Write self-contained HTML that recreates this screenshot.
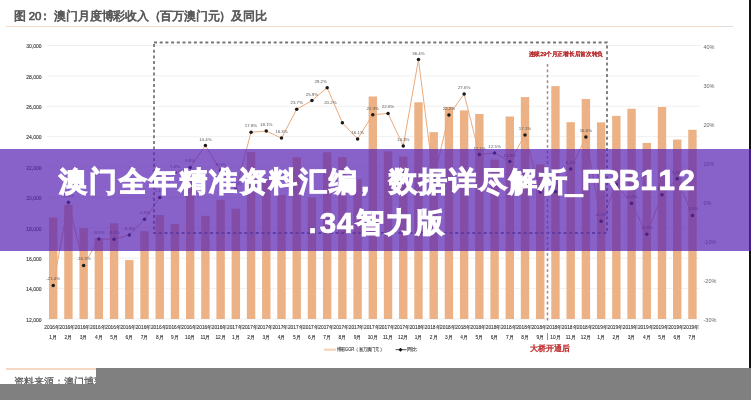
<!DOCTYPE html>
<html><head><meta charset="utf-8">
<style>
html,body{margin:0;padding:0;}
body{width:751px;height:400px;overflow:hidden;position:relative;background:#fff;font-family:"Liberation Sans",sans-serif;}
.title{position:absolute;left:14px;top:8px;font-size:11.5px;letter-spacing:-0.22px;color:#555;-webkit-text-stroke:0.65px #555;filter:blur(0.3px);white-space:nowrap;line-height:16px;}
.uline{position:absolute;left:6px;top:25.8px;width:727px;height:1.6px;background:linear-gradient(to right,#f6dac6 0%,#f6dac6 97%,#dedede 98.5%);}
svg{position:absolute;left:0;top:0;filter:blur(0.45px);}
.ax{font-size:5px;fill:#444;stroke:#444;stroke-width:0.15px;}
.ax2{font-size:5.5px;fill:#666;}
.lb{font-size:4.4px;fill:#555;}
.xl{font-size:4.8px;fill:#3a3a3a;stroke:#3a3a3a;stroke-width:0.12px;}
.rd{font-size:5.6px;fill:#b83434;stroke:#b83434;stroke-width:0.45px;}
.rd2{font-size:8.2px;fill:#c03535;stroke:#c03535;stroke-width:0.45px;}
.lg{font-size:4.8px;fill:#444;stroke:#444;stroke-width:0.12px;}
.rline{position:absolute;left:749px;top:0;width:1.6px;height:400px;background:#111;}
.src{position:absolute;left:6px;top:368.4px;width:727px;height:1.3px;background:#f4d8c4;}
.srct{position:absolute;left:14px;top:375.5px;font-size:10px;color:#555;-webkit-text-stroke:0.25px #555;filter:blur(0.3px);white-space:nowrap;line-height:12px;}
.g1{position:absolute;left:96px;top:368px;width:655px;height:32px;background:#808080;}
.g2{position:absolute;left:0;top:384px;width:751px;height:16px;background:#808080;}
.banner{position:absolute;left:0;top:149px;width:751px;height:101.8px;background:rgba(90,36,180,0.72);}
.btxt{position:absolute;left:0;top:0;width:751px;height:400px;color:#fff;font-weight:bold;-webkit-text-stroke:1.2px #fff;filter:blur(0.35px);}
.bt{position:absolute;white-space:nowrap;font-size:28px;letter-spacing:2px;line-height:30px;}
.lt{position:absolute;width:30px;text-align:center;font-size:29.5px;line-height:30px;-webkit-text-stroke:0.7px #fff;}
</style></head><body>
<div class="title">图 20<span style="position:relative;left:-2.5px">：</span><span style="position:relative;left:1.5px">澳门月度博彩收入（百万澳门元）及同比</span></div>
<div class="uline"></div>
<svg width="751" height="400" viewBox="0 0 751 400">
<line x1="47" y1="319.00" x2="700" y2="319.00" stroke="#ececec" stroke-width="0.8"/>
<text x="41.5" y="321.80" text-anchor="end" class="ax">12,000</text>
<line x1="47" y1="288.61" x2="700" y2="288.61" stroke="#ececec" stroke-width="0.8"/>
<text x="41.5" y="291.41" text-anchor="end" class="ax">14,000</text>
<line x1="47" y1="258.22" x2="700" y2="258.22" stroke="#ececec" stroke-width="0.8"/>
<text x="41.5" y="261.02" text-anchor="end" class="ax">16,000</text>
<line x1="47" y1="227.83" x2="700" y2="227.83" stroke="#ececec" stroke-width="0.8"/>
<text x="41.5" y="230.63" text-anchor="end" class="ax">18,000</text>
<line x1="47" y1="197.44" x2="700" y2="197.44" stroke="#ececec" stroke-width="0.8"/>
<text x="41.5" y="200.24" text-anchor="end" class="ax">20,000</text>
<line x1="47" y1="167.06" x2="700" y2="167.06" stroke="#ececec" stroke-width="0.8"/>
<text x="41.5" y="169.86" text-anchor="end" class="ax">22,000</text>
<line x1="47" y1="136.67" x2="700" y2="136.67" stroke="#ececec" stroke-width="0.8"/>
<text x="41.5" y="139.47" text-anchor="end" class="ax">24,000</text>
<line x1="47" y1="106.28" x2="700" y2="106.28" stroke="#ececec" stroke-width="0.8"/>
<text x="41.5" y="109.08" text-anchor="end" class="ax">26,000</text>
<line x1="47" y1="75.89" x2="700" y2="75.89" stroke="#ececec" stroke-width="0.8"/>
<text x="41.5" y="78.69" text-anchor="end" class="ax">28,000</text>
<line x1="47" y1="45.50" x2="700" y2="45.50" stroke="#ececec" stroke-width="0.8"/>
<text x="41.5" y="48.30" text-anchor="end" class="ax">30,000</text>
<text x="703.5" y="322.00" class="ax2">-30%</text>
<text x="703.5" y="282.93" class="ax2">-20%</text>
<text x="703.5" y="243.86" class="ax2">-10%</text>
<text x="703.5" y="204.79" class="ax2">0%</text>
<text x="703.5" y="165.71" class="ax2">10%</text>
<text x="703.5" y="126.64" class="ax2">20%</text>
<text x="703.5" y="87.57" class="ax2">30%</text>
<text x="703.5" y="48.50" class="ax2">40%</text>
<rect x="49.00" y="217.52" width="8.4" height="101.48" fill="#ecb286"/>
<rect x="64.22" y="204.74" width="8.4" height="114.26" fill="#ecb286"/>
<rect x="79.44" y="228.12" width="8.4" height="90.88" fill="#ecb286"/>
<rect x="94.66" y="238.01" width="8.4" height="80.99" fill="#ecb286"/>
<rect x="109.88" y="223.35" width="8.4" height="95.65" fill="#ecb286"/>
<rect x="125.10" y="260.09" width="8.4" height="58.91" fill="#ecb286"/>
<rect x="140.32" y="231.22" width="8.4" height="87.78" fill="#ecb286"/>
<rect x="155.54" y="215.02" width="8.4" height="103.98" fill="#ecb286"/>
<rect x="170.76" y="223.88" width="8.4" height="95.12" fill="#ecb286"/>
<rect x="185.98" y="170.14" width="8.4" height="148.86" fill="#ecb286"/>
<rect x="201.20" y="215.86" width="8.4" height="103.14" fill="#ecb286"/>
<rect x="216.42" y="199.72" width="8.4" height="119.28" fill="#ecb286"/>
<rect x="231.64" y="208.78" width="8.4" height="110.22" fill="#ecb286"/>
<rect x="246.86" y="151.92" width="8.4" height="167.08" fill="#ecb286"/>
<rect x="262.08" y="178.76" width="8.4" height="140.24" fill="#ecb286"/>
<rect x="277.30" y="194.89" width="8.4" height="124.11" fill="#ecb286"/>
<rect x="292.52" y="157.33" width="8.4" height="161.67" fill="#ecb286"/>
<rect x="307.74" y="197.61" width="8.4" height="121.39" fill="#ecb286"/>
<rect x="322.96" y="152.32" width="8.4" height="166.68" fill="#ecb286"/>
<rect x="338.18" y="157.06" width="8.4" height="161.94" fill="#ecb286"/>
<rect x="353.40" y="179.03" width="8.4" height="139.97" fill="#ecb286"/>
<rect x="368.62" y="96.49" width="8.4" height="222.51" fill="#ecb286"/>
<rect x="383.84" y="151.44" width="8.4" height="167.56" fill="#ecb286"/>
<rect x="399.06" y="156.53" width="8.4" height="162.47" fill="#ecb286"/>
<rect x="414.28" y="102.33" width="8.4" height="216.67" fill="#ecb286"/>
<rect x="429.50" y="132.11" width="8.4" height="186.89" fill="#ecb286"/>
<rect x="444.72" y="107.08" width="8.4" height="211.92" fill="#ecb286"/>
<rect x="459.94" y="110.40" width="8.4" height="208.60" fill="#ecb286"/>
<rect x="475.16" y="114.01" width="8.4" height="204.99" fill="#ecb286"/>
<rect x="490.38" y="159.61" width="8.4" height="159.39" fill="#ecb286"/>
<rect x="505.60" y="116.50" width="8.4" height="202.50" fill="#ecb286"/>
<rect x="520.82" y="97.09" width="8.4" height="221.91" fill="#ecb286"/>
<rect x="536.04" y="164.44" width="8.4" height="154.56" fill="#ecb286"/>
<rect x="551.26" y="86.11" width="8.4" height="232.89" fill="#ecb286"/>
<rect x="566.48" y="122.17" width="8.4" height="196.83" fill="#ecb286"/>
<rect x="581.70" y="98.97" width="8.4" height="220.03" fill="#ecb286"/>
<rect x="596.92" y="122.35" width="8.4" height="196.65" fill="#ecb286"/>
<rect x="612.14" y="115.85" width="8.4" height="203.15" fill="#ecb286"/>
<rect x="627.36" y="108.71" width="8.4" height="210.29" fill="#ecb286"/>
<rect x="642.58" y="142.93" width="8.4" height="176.07" fill="#ecb286"/>
<rect x="657.80" y="107.01" width="8.4" height="211.99" fill="#ecb286"/>
<rect x="673.02" y="139.52" width="8.4" height="179.48" fill="#ecb286"/>
<rect x="688.24" y="129.78" width="8.4" height="189.22" fill="#ecb286"/>
<polyline points="53.20,285.40 68.42,202.18 83.64,265.47 98.86,238.90 114.08,239.29 129.30,235.00 144.52,219.37 159.74,197.49 174.96,172.87 190.18,167.40 205.40,145.52 220.62,170.53 235.84,189.67 251.06,132.24 266.28,131.07 281.50,138.10 296.72,109.19 311.94,100.59 327.16,87.70 342.38,122.86 357.60,138.88 372.82,114.66 388.04,113.48 403.26,145.91 418.48,59.57 433.70,179.51 448.92,115.05 464.14,93.95 479.36,154.51 494.58,152.95 509.80,161.54 525.02,134.97 540.24,192.02 555.46,191.63 570.68,168.97 585.90,136.93 601.12,221.32 616.34,184.59 631.56,203.35 646.78,234.22 662.00,194.75 677.22,178.73 692.44,215.46" fill="none" stroke="#eba97c" stroke-width="1.0"/>
<circle cx="53.20" cy="285.40" r="1.75" fill="#1a1a1a"/>
<text x="53.20" y="280.40" text-anchor="middle" class="lb">-21.4%</text>
<circle cx="68.42" cy="202.18" r="1.75" fill="#1a1a1a"/>
<text x="68.42" y="197.18" text-anchor="middle" class="lb">-0.1%</text>
<circle cx="83.64" cy="265.47" r="1.75" fill="#1a1a1a"/>
<text x="83.64" y="260.47" text-anchor="middle" class="lb">-16.3%</text>
<circle cx="98.86" cy="238.90" r="1.75" fill="#1a1a1a"/>
<text x="98.86" y="233.90" text-anchor="middle" class="lb">-9.5%</text>
<circle cx="114.08" cy="239.29" r="1.75" fill="#1a1a1a"/>
<text x="114.08" y="234.29" text-anchor="middle" class="lb">-9.6%</text>
<circle cx="129.30" cy="235.00" r="1.75" fill="#1a1a1a"/>
<text x="129.30" y="230.00" text-anchor="middle" class="lb">-8.5%</text>
<circle cx="144.52" cy="219.37" r="1.75" fill="#1a1a1a"/>
<text x="144.52" y="214.37" text-anchor="middle" class="lb">-4.5%</text>
<circle cx="159.74" cy="197.49" r="1.75" fill="#1a1a1a"/>
<text x="159.74" y="192.49" text-anchor="middle" class="lb">1.1%</text>
<circle cx="174.96" cy="172.87" r="1.75" fill="#1a1a1a"/>
<text x="174.96" y="167.87" text-anchor="middle" class="lb">7.4%</text>
<circle cx="190.18" cy="167.40" r="1.75" fill="#1a1a1a"/>
<text x="190.18" y="162.40" text-anchor="middle" class="lb">8.8%</text>
<circle cx="205.40" cy="145.52" r="1.75" fill="#1a1a1a"/>
<text x="205.40" y="140.52" text-anchor="middle" class="lb">14.4%</text>
<circle cx="220.62" cy="170.53" r="1.75" fill="#1a1a1a"/>
<text x="220.62" y="165.53" text-anchor="middle" class="lb">8.0%</text>
<circle cx="235.84" cy="189.67" r="1.75" fill="#1a1a1a"/>
<text x="235.84" y="184.67" text-anchor="middle" class="lb">3.1%</text>
<circle cx="251.06" cy="132.24" r="1.75" fill="#1a1a1a"/>
<text x="251.06" y="127.24" text-anchor="middle" class="lb">17.8%</text>
<circle cx="266.28" cy="131.07" r="1.75" fill="#1a1a1a"/>
<text x="266.28" y="126.07" text-anchor="middle" class="lb">18.1%</text>
<circle cx="281.50" cy="138.10" r="1.75" fill="#1a1a1a"/>
<text x="281.50" y="133.10" text-anchor="middle" class="lb">16.3%</text>
<circle cx="296.72" cy="109.19" r="1.75" fill="#1a1a1a"/>
<text x="296.72" y="104.19" text-anchor="middle" class="lb">23.7%</text>
<circle cx="311.94" cy="100.59" r="1.75" fill="#1a1a1a"/>
<text x="311.94" y="95.59" text-anchor="middle" class="lb">25.9%</text>
<circle cx="327.16" cy="87.70" r="1.75" fill="#1a1a1a"/>
<text x="320.66" y="82.70" text-anchor="middle" class="lb">29.2%</text>
<circle cx="342.38" cy="122.86" r="1.75" fill="#1a1a1a"/>
<text x="330.38" y="104.36" text-anchor="middle" class="lb">20.2%</text>
<circle cx="357.60" cy="138.88" r="1.75" fill="#1a1a1a"/>
<text x="357.60" y="133.88" text-anchor="middle" class="lb">16.1%</text>
<circle cx="372.82" cy="114.66" r="1.75" fill="#1a1a1a"/>
<text x="372.82" y="109.66" text-anchor="middle" class="lb">22.3%</text>
<circle cx="388.04" cy="113.48" r="1.75" fill="#1a1a1a"/>
<text x="388.04" y="108.48" text-anchor="middle" class="lb">22.6%</text>
<circle cx="403.26" cy="145.91" r="1.75" fill="#1a1a1a"/>
<text x="403.26" y="140.91" text-anchor="middle" class="lb">14.3%</text>
<circle cx="418.48" cy="59.57" r="1.75" fill="#1a1a1a"/>
<text x="418.48" y="54.57" text-anchor="middle" class="lb">36.4%</text>
<circle cx="433.70" cy="179.51" r="1.75" fill="#1a1a1a"/>
<text x="433.70" y="174.51" text-anchor="middle" class="lb">5.7%</text>
<circle cx="448.92" cy="115.05" r="1.75" fill="#1a1a1a"/>
<text x="448.92" y="110.05" text-anchor="middle" class="lb">22.2%</text>
<circle cx="464.14" cy="93.95" r="1.75" fill="#1a1a1a"/>
<text x="464.14" y="88.95" text-anchor="middle" class="lb">27.6%</text>
<circle cx="479.36" cy="154.51" r="1.75" fill="#1a1a1a"/>
<text x="479.36" y="149.51" text-anchor="middle" class="lb">12.1%</text>
<circle cx="494.58" cy="152.95" r="1.75" fill="#1a1a1a"/>
<text x="494.58" y="147.95" text-anchor="middle" class="lb">12.5%</text>
<circle cx="509.80" cy="161.54" r="1.75" fill="#1a1a1a"/>
<text x="509.80" y="156.54" text-anchor="middle" class="lb">10.3%</text>
<circle cx="525.02" cy="134.97" r="1.75" fill="#1a1a1a"/>
<text x="525.02" y="129.97" text-anchor="middle" class="lb">17.1%</text>
<circle cx="540.24" cy="192.02" r="1.75" fill="#1a1a1a"/>
<text x="540.24" y="187.02" text-anchor="middle" class="lb">2.5%</text>
<circle cx="555.46" cy="191.63" r="1.75" fill="#1a1a1a"/>
<text x="555.46" y="186.63" text-anchor="middle" class="lb">2.6%</text>
<circle cx="570.68" cy="168.97" r="1.75" fill="#1a1a1a"/>
<text x="570.68" y="163.97" text-anchor="middle" class="lb">8.4%</text>
<circle cx="585.90" cy="136.93" r="1.75" fill="#1a1a1a"/>
<text x="585.90" y="131.93" text-anchor="middle" class="lb">16.6%</text>
<circle cx="601.12" cy="221.32" r="1.75" fill="#1a1a1a"/>
<text x="601.12" y="216.32" text-anchor="middle" class="lb">-5.0%</text>
<circle cx="616.34" cy="184.59" r="1.75" fill="#1a1a1a"/>
<text x="616.34" y="179.59" text-anchor="middle" class="lb">4.4%</text>
<circle cx="631.56" cy="203.35" r="1.75" fill="#1a1a1a"/>
<text x="631.56" y="198.35" text-anchor="middle" class="lb">-0.4%</text>
<circle cx="646.78" cy="234.22" r="1.75" fill="#1a1a1a"/>
<text x="646.78" y="229.22" text-anchor="middle" class="lb">-8.3%</text>
<circle cx="662.00" cy="194.75" r="1.75" fill="#1a1a1a"/>
<text x="662.00" y="189.75" text-anchor="middle" class="lb">1.8%</text>
<circle cx="677.22" cy="178.73" r="1.75" fill="#1a1a1a"/>
<text x="677.22" y="173.73" text-anchor="middle" class="lb">5.9%</text>
<circle cx="692.44" cy="215.46" r="1.75" fill="#1a1a1a"/>
<text x="692.44" y="210.46" text-anchor="middle" class="lb">-3.5%</text>
<text x="52.20" y="328.8" text-anchor="middle" class="xl">2016年</text>
<text x="53.20" y="338.5" text-anchor="middle" class="xl">1月</text>
<text x="67.42" y="328.8" text-anchor="middle" class="xl">2016年</text>
<text x="68.42" y="338.5" text-anchor="middle" class="xl">2月</text>
<text x="82.64" y="328.8" text-anchor="middle" class="xl">2016年</text>
<text x="83.64" y="338.5" text-anchor="middle" class="xl">3月</text>
<text x="97.86" y="328.8" text-anchor="middle" class="xl">2016年</text>
<text x="98.86" y="338.5" text-anchor="middle" class="xl">4月</text>
<text x="113.08" y="328.8" text-anchor="middle" class="xl">2016年</text>
<text x="114.08" y="338.5" text-anchor="middle" class="xl">5月</text>
<text x="128.30" y="328.8" text-anchor="middle" class="xl">2016年</text>
<text x="129.30" y="338.5" text-anchor="middle" class="xl">6月</text>
<text x="143.52" y="328.8" text-anchor="middle" class="xl">2016年</text>
<text x="144.52" y="338.5" text-anchor="middle" class="xl">7月</text>
<text x="158.74" y="328.8" text-anchor="middle" class="xl">2016年</text>
<text x="159.74" y="338.5" text-anchor="middle" class="xl">8月</text>
<text x="173.96" y="328.8" text-anchor="middle" class="xl">2016年</text>
<text x="174.96" y="338.5" text-anchor="middle" class="xl">9月</text>
<text x="189.18" y="328.8" text-anchor="middle" class="xl">2016年</text>
<text x="190.18" y="338.5" text-anchor="middle" class="xl">10月</text>
<text x="204.40" y="328.8" text-anchor="middle" class="xl">2016年</text>
<text x="205.40" y="338.5" text-anchor="middle" class="xl">11月</text>
<text x="219.62" y="328.8" text-anchor="middle" class="xl">2016年</text>
<text x="220.62" y="338.5" text-anchor="middle" class="xl">12月</text>
<text x="234.84" y="328.8" text-anchor="middle" class="xl">2017年</text>
<text x="235.84" y="338.5" text-anchor="middle" class="xl">1月</text>
<text x="250.06" y="328.8" text-anchor="middle" class="xl">2017年</text>
<text x="251.06" y="338.5" text-anchor="middle" class="xl">2月</text>
<text x="265.28" y="328.8" text-anchor="middle" class="xl">2017年</text>
<text x="266.28" y="338.5" text-anchor="middle" class="xl">3月</text>
<text x="280.50" y="328.8" text-anchor="middle" class="xl">2017年</text>
<text x="281.50" y="338.5" text-anchor="middle" class="xl">4月</text>
<text x="295.72" y="328.8" text-anchor="middle" class="xl">2017年</text>
<text x="296.72" y="338.5" text-anchor="middle" class="xl">5月</text>
<text x="310.94" y="328.8" text-anchor="middle" class="xl">2017年</text>
<text x="311.94" y="338.5" text-anchor="middle" class="xl">6月</text>
<text x="326.16" y="328.8" text-anchor="middle" class="xl">2017年</text>
<text x="327.16" y="338.5" text-anchor="middle" class="xl">7月</text>
<text x="341.38" y="328.8" text-anchor="middle" class="xl">2017年</text>
<text x="342.38" y="338.5" text-anchor="middle" class="xl">8月</text>
<text x="356.60" y="328.8" text-anchor="middle" class="xl">2017年</text>
<text x="357.60" y="338.5" text-anchor="middle" class="xl">9月</text>
<text x="371.82" y="328.8" text-anchor="middle" class="xl">2017年</text>
<text x="372.82" y="338.5" text-anchor="middle" class="xl">10月</text>
<text x="387.04" y="328.8" text-anchor="middle" class="xl">2017年</text>
<text x="388.04" y="338.5" text-anchor="middle" class="xl">11月</text>
<text x="402.26" y="328.8" text-anchor="middle" class="xl">2017年</text>
<text x="403.26" y="338.5" text-anchor="middle" class="xl">12月</text>
<text x="417.48" y="328.8" text-anchor="middle" class="xl">2018年</text>
<text x="418.48" y="338.5" text-anchor="middle" class="xl">1月</text>
<text x="432.70" y="328.8" text-anchor="middle" class="xl">2018年</text>
<text x="433.70" y="338.5" text-anchor="middle" class="xl">2月</text>
<text x="447.92" y="328.8" text-anchor="middle" class="xl">2018年</text>
<text x="448.92" y="338.5" text-anchor="middle" class="xl">3月</text>
<text x="463.14" y="328.8" text-anchor="middle" class="xl">2018年</text>
<text x="464.14" y="338.5" text-anchor="middle" class="xl">4月</text>
<text x="478.36" y="328.8" text-anchor="middle" class="xl">2018年</text>
<text x="479.36" y="338.5" text-anchor="middle" class="xl">5月</text>
<text x="493.58" y="328.8" text-anchor="middle" class="xl">2018年</text>
<text x="494.58" y="338.5" text-anchor="middle" class="xl">6月</text>
<text x="508.80" y="328.8" text-anchor="middle" class="xl">2018年</text>
<text x="509.80" y="338.5" text-anchor="middle" class="xl">7月</text>
<text x="524.02" y="328.8" text-anchor="middle" class="xl">2018年</text>
<text x="525.02" y="338.5" text-anchor="middle" class="xl">8月</text>
<text x="539.24" y="328.8" text-anchor="middle" class="xl">2018年</text>
<text x="540.24" y="338.5" text-anchor="middle" class="xl">9月</text>
<text x="554.46" y="328.8" text-anchor="middle" class="xl">2018年</text>
<text x="555.46" y="338.5" text-anchor="middle" class="xl">10月</text>
<text x="569.68" y="328.8" text-anchor="middle" class="xl">2018年</text>
<text x="570.68" y="338.5" text-anchor="middle" class="xl">11月</text>
<text x="584.90" y="328.8" text-anchor="middle" class="xl">2018年</text>
<text x="585.90" y="338.5" text-anchor="middle" class="xl">12月</text>
<text x="600.12" y="328.8" text-anchor="middle" class="xl">2019年</text>
<text x="601.12" y="338.5" text-anchor="middle" class="xl">1月</text>
<text x="615.34" y="328.8" text-anchor="middle" class="xl">2019年</text>
<text x="616.34" y="338.5" text-anchor="middle" class="xl">2月</text>
<text x="630.56" y="328.8" text-anchor="middle" class="xl">2019年</text>
<text x="631.56" y="338.5" text-anchor="middle" class="xl">3月</text>
<text x="645.78" y="328.8" text-anchor="middle" class="xl">2019年</text>
<text x="646.78" y="338.5" text-anchor="middle" class="xl">4月</text>
<text x="661.00" y="328.8" text-anchor="middle" class="xl">2019年</text>
<text x="662.00" y="338.5" text-anchor="middle" class="xl">5月</text>
<text x="676.22" y="328.8" text-anchor="middle" class="xl">2019年</text>
<text x="677.22" y="338.5" text-anchor="middle" class="xl">6月</text>
<text x="691.44" y="328.8" text-anchor="middle" class="xl">2019年</text>
<text x="692.44" y="338.5" text-anchor="middle" class="xl">7月</text>
<rect x="154" y="42.5" width="453" height="190.5" fill="none" stroke="#777" stroke-width="1.8" stroke-dasharray="3,2.7"/>
<line x1="547.5" y1="64" x2="547.5" y2="322" stroke="#a88888" stroke-width="1.5" stroke-dasharray="2.8,2.6"/><line x1="547.5" y1="333" x2="547.5" y2="340" stroke="#777" stroke-width="0.8"/>
<text x="528.8" y="56.4" class="rd" textLength="74.2" lengthAdjust="spacingAndGlyphs">连续29个月正增长后首次转负</text>
<text x="529.8" y="350.8" class="rd2">大桥开通后</text>
<line x1="324" y1="349.7" x2="336" y2="349.7" stroke="#f5cfae" stroke-width="2"/>
<text x="336.5" y="351.4" class="lg" textLength="47.5" lengthAdjust="spacingAndGlyphs">博彩GGR（百万澳门元）</text>
<line x1="395.5" y1="349.7" x2="406.5" y2="349.7" stroke="#222" stroke-width="0.8"/>
<path d="M400.5 347.7 L402.5 349.7 L400.5 351.7 L398.5 349.7Z" fill="#111"/>
<text x="407" y="350.9" class="lg">同比</text>
</svg>
<div class="rline"></div>
<div class="src"></div>
<div class="srct">资料来源：澳门博彩监察协调局</div>
<div class="g1"></div><div class="g2"></div>
<div class="banner"></div>
<div class="btxt"><div class="bt" style="left:58.6px;top:166.5px">澳门全年精准资料汇编<span style="position:relative;left:-8px">，</span>数据详尽解析</div><div class="lt" style="left:559.0px;top:167.8px;-webkit-text-stroke:2px #fff">_</div><div class="lt" style="left:575.8px;top:165.3px">F</div><div class="lt" style="left:594.0px;top:165.3px">R</div><div class="lt" style="left:614.5px;top:165.3px">B</div><div class="lt" style="left:633.5px;top:165.3px">1</div><div class="lt" style="left:651.8px;top:165.3px">1</div><div class="lt" style="left:671.8px;top:165.3px">2</div><div class="bt" style="left:356.2px;top:207.5px">智力版</div><div class="lt" style="left:297.5px;top:207.5px">.</div><div class="lt" style="left:313.0px;top:207.5px">3</div><div class="lt" style="left:330.0px;top:207.5px">4</div></div>
</body></html>
